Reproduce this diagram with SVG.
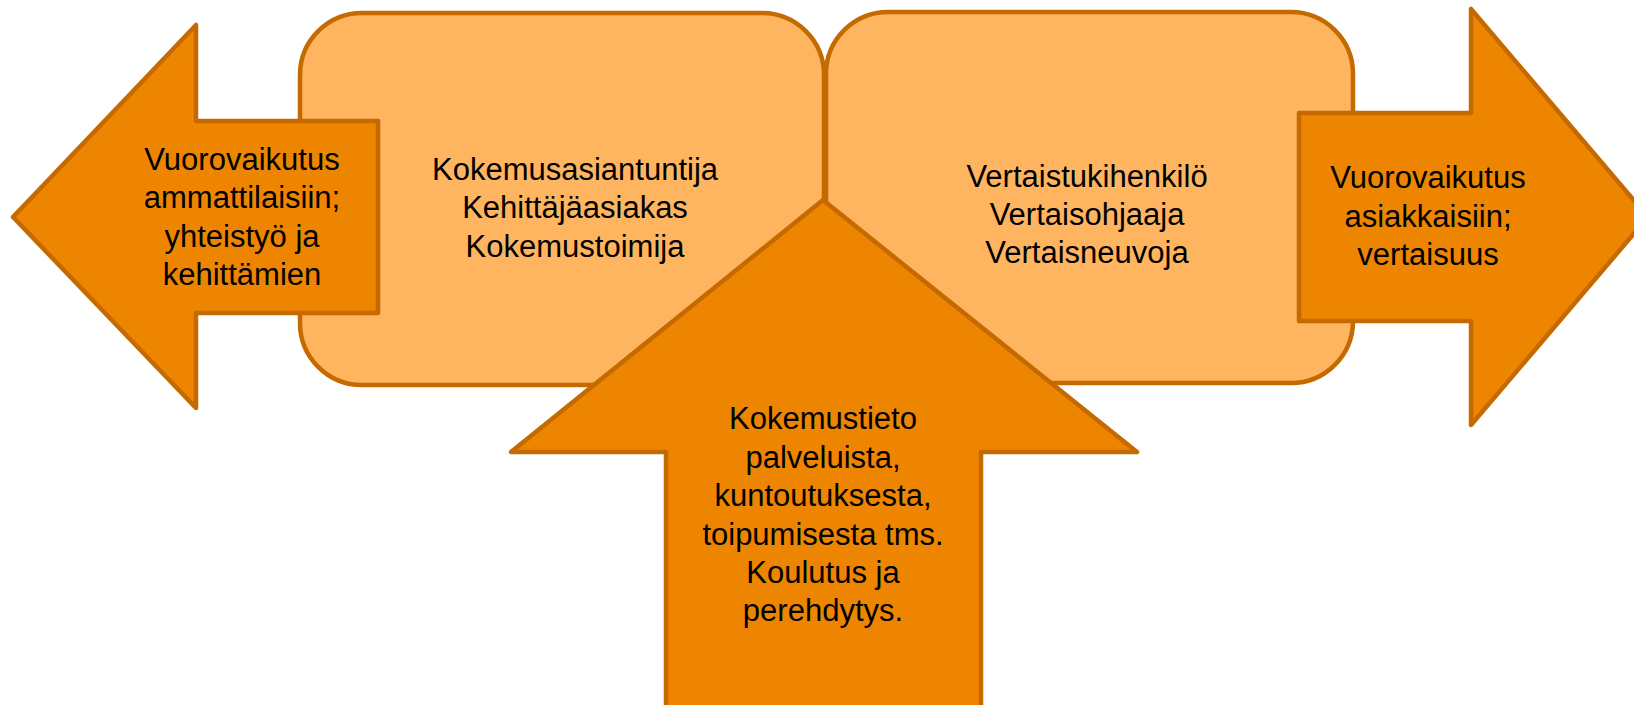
<svg xmlns="http://www.w3.org/2000/svg" width="1634" height="705" viewBox="0 0 1634 705">
<style>
.box{fill:#FFB55F;stroke:#C46A00;stroke-width:4.5;stroke-linejoin:round}
.arr{fill:#EE8500;stroke:#C46A00;stroke-width:4.5;stroke-linejoin:round}
text{font-family:"Liberation Sans",Arial,sans-serif;font-size:31px;fill:#000;text-anchor:middle}
</style>
<rect width="1634" height="705" fill="#fff"/>
<g id="box-left">
<rect class="box" x="300" y="13" width="524" height="372" rx="62" ry="62"/>
<text x="575" y="180">Kokemusasiantuntija</text>
<text x="575" y="218">Kehittäjäasiakas</text>
<text x="575" y="257">Kokemustoimija</text>
</g>
<g id="box-right">
<rect class="box" x="826" y="12" width="527" height="371" rx="62" ry="62"/>
<text x="1087" y="187">Vertaistukihenkilö</text>
<text x="1087" y="225">Vertaisohjaaja</text>
<text x="1087" y="263">Vertaisneuvoja</text>
</g>
<g id="arrow-left">
<polygon class="arr" points="13,217 196,25 196,121 378,121 378,313 196,313 196,408"/>
<text x="242" y="170">Vuorovaikutus</text>
<text x="242" y="208">ammattilaisiin;</text>
<text x="242" y="247">yhteistyö ja</text>
<text x="242" y="285">kehittämien</text>
</g>
<g id="arrow-right">
<polygon class="arr" points="1648,217 1471,9 1471,113 1299,113 1299,321 1471,321 1471,425"/>
<text x="1428" y="188">Vuorovaikutus</text>
<text x="1428" y="227">asiakkaisiin;</text>
<text x="1428" y="265">vertaisuus</text>
</g>
<g id="arrow-up">
<polygon class="arr" points="823,200 1137,452 981,452 981,720 666,720 666,452 511,452"/>
<text x="823" y="429">Kokemustieto</text>
<text x="823" y="468">palveluista,</text>
<text x="823" y="506">kuntoutuksesta,</text>
<text x="823" y="545">toipumisesta tms.</text>
<text x="823" y="583">Koulutus ja</text>
<text x="823" y="621">perehdytys.</text>
</g>
<g id="connectors"></g>
</svg>
